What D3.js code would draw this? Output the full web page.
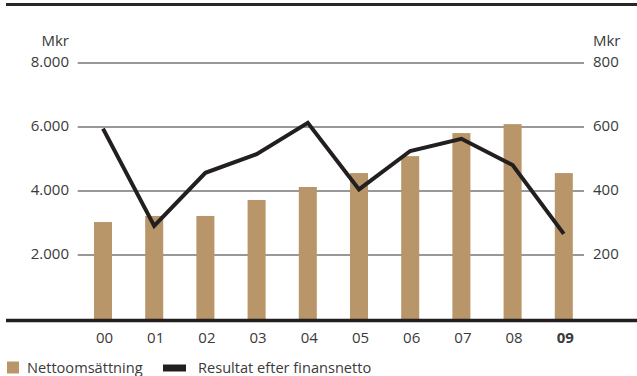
<!DOCTYPE html>
<html>
<head>
<meta charset="utf-8">
<script src="https://cdn.jsdelivr.net/npm/d3@7/dist/d3.min.js"></script>
<style>
  html, body { margin: 0; padding: 0; background: #fff; }
  svg { display: block; }
  text { font-family: "Open Sans", "Noto Sans", sans-serif; fill: #3a3a3a; }
</style>
</head>
<body>
<svg id="chart" width="637" height="376"></svg>
<script>
// Years shown on the x axis
const years = ["00", "01", "02", "03", "04", "05", "06", "07", "08", "09"];
// Net sales, Mkr (left axis)
const nettoomsattning = [3030, 3220, 3220, 3720, 4125, 4560, 5090, 5810, 6090, 4560];
// Profit after financial items, Mkr (right axis)
const resultat = [595, 291, 457, 515, 613, 405, 525, 563, 481, 266];
// Axis ticks
const leftTicks = [2000, 4000, 6000, 8000];
const rightTicks = [200, 400, 600, 800];

const svg = d3.select("#chart");
const fmt = d3.formatLocale({ decimal: ",", thousands: ".", grouping: [3], currency: ["", ""] }).format(",");

const x = d3.scaleBand().domain(years).range([77.4, 589.4]).paddingInner(0.648).paddingOuter(0.324);
const yL = d3.scaleLinear().domain([0, 8000]).range([319, 63]);
const yR = d3.scaleLinear().domain([0, 800]).range([319, 63]);

// Top rule
svg.append("line").attr("x1", 6).attr("x2", 637).attr("y1", 4.5).attr("y2", 4.5)
  .attr("stroke", "#2a2627").attr("stroke-width", 3);

// Gridlines
svg.append("g").selectAll("line").data(leftTicks).join("line")
  .attr("x1", 77.7).attr("x2", 584)
  .attr("y1", d => yL(d)).attr("y2", d => yL(d))
  .attr("stroke", "#333").attr("stroke-width", 1);

// Left axis labels
const leftAxis = svg.append("g");
leftAxis.selectAll("text").data(leftTicks).join("text")
  .attr("x", 69).attr("y", d => yL(d) + 3.8)
  .attr("text-anchor", "end").attr("font-size", 15)
  .text(d => fmt(d));
leftAxis.append("text").attr("x", 69).attr("y", 46)
  .attr("text-anchor", "end").attr("font-size", 15).text("Mkr");

// Right axis labels
const rightAxis = svg.append("g");
rightAxis.selectAll("text").data(rightTicks).join("text")
  .attr("x", 593).attr("y", d => yR(d) + 3.8)
  .attr("text-anchor", "start").attr("font-size", 15)
  .text(d => d);
rightAxis.append("text").attr("x", 593).attr("y", 46)
  .attr("text-anchor", "start").attr("font-size", 15).text("Mkr");

// Bars
svg.append("g").selectAll("rect").data(years).join("rect")
  .attr("x", d => x(d)).attr("width", x.bandwidth())
  .attr("y", (d, i) => yL(nettoomsattning[i]))
  .attr("height", (d, i) => yL(0) - yL(nettoomsattning[i]))
  .attr("fill", "#b8966a");

// Baseline
svg.append("line").attr("x1", 6).attr("x2", 637).attr("y1", 320.5).attr("y2", 320.5)
  .attr("stroke", "#231f20").attr("stroke-width", 3.5);

// Profit line
const line = d3.line()
  .x((d, i) => x(years[i]) + x.bandwidth() / 2)
  .y(d => yR(d));
svg.append("path").datum(resultat)
  .attr("d", line)
  .attr("fill", "none").attr("stroke", "#231f20")
  .attr("stroke-width", 4).attr("stroke-linejoin", "miter").attr("stroke-linecap", "butt");

// X labels
svg.append("g").selectAll("text").data(years).join("text")
  .attr("x", d => x(d) + x.bandwidth() / 2 + 1.5).attr("y", 343)
  .attr("text-anchor", "middle").attr("font-size", 15)
  .attr("font-weight", (d, i) => i === years.length - 1 ? 700 : 400)
  .attr("fill", (d, i) => i === years.length - 1 ? "#231f20" : "#3a3a3a")
  .text(d => d);

// Legend
const legend = svg.append("g");
legend.append("rect").attr("x", 7).attr("y", 361.5).attr("width", 12).attr("height", 12).attr("fill", "#b8966a");
legend.append("text").attr("x", 27).attr("y", 372.6).attr("font-size", 14.6).text("Nettoomsättning");
legend.append("rect").attr("x", 163).attr("y", 364.5).attr("width", 23).attr("height", 7).attr("fill", "#231f20");
legend.append("text").attr("x", 198).attr("y", 372.6).attr("font-size", 14.6).text("Resultat efter finansnetto");
</script>
</body>
</html>
